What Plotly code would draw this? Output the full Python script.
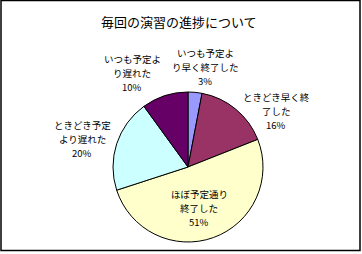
import plotly.graph_objects as go

W, H = 362, 254

title_text = "毎回の演習の進捗について"
categories = [
    "いつも予定より早く終了した",
    "ときどき早く終了した",
    "ほぼ予定通り終了した",
    "ときどき予定より遅れた",
    "いつも予定より遅れた",
]
label_lines = [
    ["いつも予定よ", "り早く終了した"],
    ["ときどき早く終", "了した"],
    ["ほぼ予定通り", "終了した"],
    ["ときどき予定", "より遅れた"],
    ["いつも予定よ", "り遅れた"],
]
values = [3, 16, 51, 20, 10]
colors = ["#9999FF", "#993366", "#FFFFCC", "#CCFFFF", "#660066"]

# label centre positions in pixels (styling): centre of middle line
label_pos = [(205, 67), (276, 111), (199, 208), (82, 139), (132, 73)]
LINE_STEP = 14

cx, cy, r = 188, 167, 75

FONT = "Noto Sans CJK JP, sans-serif"

fig = go.Figure(go.Pie(
    labels=categories,
    values=values,
    sort=False,
    direction="clockwise",
    rotation=0,
    marker=dict(colors=colors, line=dict(color="black", width=1)),
    textinfo="none",
    hoverinfo="label+percent",
    domain=dict(x=[(cx - r) / W, (cx + r) / W], y=[1 - (cy + r) / H, 1 - (cy - r) / H]),
    showlegend=False,
))

annotations = [dict(
    text=title_text, x=179 / W, y=1 - 22 / H, xref="paper", yref="paper",
    showarrow=False, xanchor="center", yanchor="middle",
    font=dict(family=FONT, size=13, color="black"),
)]
for lines, v, (px, py) in zip(label_lines, values, label_pos):
    all_lines = lines + [f"{v}%"]
    for i, line in enumerate(all_lines):
        yy = py + (i - 1) * LINE_STEP
        annotations.append(dict(
            text=line, x=px / W, y=1 - yy / H, xref="paper", yref="paper",
            showarrow=False, xanchor="center", yanchor="middle", align="center",
            font=dict(family=FONT, size=9.5, color="black"),
        ))

fig.update_layout(
    width=W, height=H,
    margin=dict(l=0, r=0, t=0, b=0),
    paper_bgcolor="white", plot_bgcolor="white",
    annotations=annotations,
    shapes=[dict(type="rect", xref="paper", yref="paper",
                 x0=1 / W, x1=360 / W, y0=1 - 250.5 / H, y1=1 - 0.5 / H,
                 line=dict(color="black", width=1.5))],
)

fig.write_html("out.html")
